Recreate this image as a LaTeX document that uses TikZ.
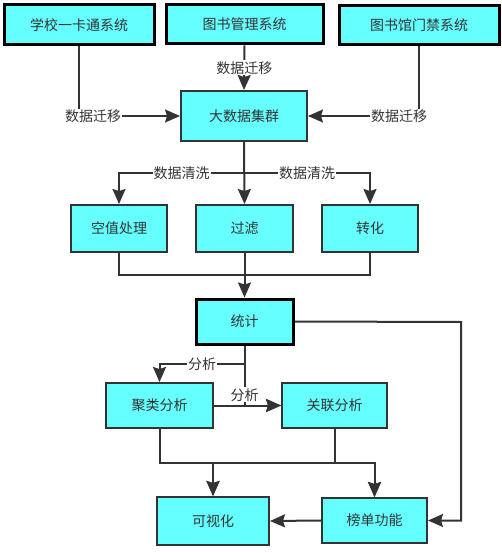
\documentclass[tikz,border=0pt]{standalone}
\usepackage{fontspec}
\setmainfont{Noto Sans CJK SC}
\usetikzlibrary{arrows.meta}
\definecolor{boxfill}{HTML}{66FFFF}
\definecolor{ink}{HTML}{333333}
\begin{document}
\begin{tikzpicture}[x=1pt,y=-1pt,
  box/.style={draw=ink,line width=2pt,fill=boxfill,rectangle,inner sep=0pt,text=ink,font=\fontsize{14}{16}\selectfont},
  boldbox/.style={box,draw=black,line width=3pt},
  conn/.style={draw=ink,line width=2pt},
  arr/.style={conn,-{Stealth[length=15pt,width=13pt,inset=2pt]}},
  lbl/.style={fill=white,inner sep=1pt,text=ink,font=\fontsize{14}{16}\selectfont}]
\useasboundingbox (0,0) rectangle (501,553);
\fill[white] (0,0) rectangle (501,553);
% nodes
\node[boldbox,minimum width=150pt,minimum height=40pt] (xk) at (79,25) {学校一卡通系统};
\node[boldbox,minimum width=157pt,minimum height=39pt] (ts) at (244.5,24.5) {图书管理系统};
\node[boldbox,minimum width=160pt,minimum height=39pt] (mj) at (419,25.5) {图书馆门禁系统};
\node[box,minimum width=126pt,minimum height=50pt] (dsj) at (244,116) {大数据集群};
\node[box,minimum width=96pt,minimum height=47pt] (kz) at (119,228.5) {空值处理};
\node[box,minimum width=97pt,minimum height=47pt] (gl) at (244.5,228.5) {过滤};
\node[box,minimum width=96pt,minimum height=47pt] (zh) at (370,228.5) {转化};
\node[boldbox,minimum width=97pt,minimum height=45pt] (tj) at (244.5,321.5) {统计};
\node[box,minimum width=107pt,minimum height=45pt] (jl) at (159.5,405.5) {聚类分析};
\node[box,minimum width=105pt,minimum height=45pt] (gx) at (334.5,405.5) {关联分析};
\node[box,minimum width=112pt,minimum height=48pt] (ksh) at (213,521) {可视化};
\node[box,minimum width=105pt,minimum height=45pt] (bd) at (374.5,520.5) {榜单功能};
% helper coordinates
\coordinate (c1) at (244,173);
\coordinate (c2) at (244.5,275);
\coordinate (c3) at (461,322);
\coordinate (c6) at (244.5,364);
\coordinate (c4) at (159.5,463);
\coordinate (c5) at (334.5,463);
% connectors
\draw[arr] (xk.south) |- node[lbl,pos=0.57]{数据迁移} (dsj.west);
\draw[arr] (ts.south) -- node[lbl]{数据迁移} (dsj.north);
\draw[arr] (mj.south) |- node[lbl,pos=0.59]{数据迁移} (dsj.east);
\draw[arr] (dsj.south) -- (c1) -| node[lbl,pos=0.25]{数据清洗} (kz.north);
\draw[arr] (dsj.south) -- (c1) -| node[lbl,pos=0.25]{数据清洗} (zh.north);
\draw[arr] (dsj.south) -- (gl.north);
\draw[conn] (kz.south) |- (c2);
\draw[conn] (zh.south) |- (c2);
\draw[arr] (gl.south) -- (tj.north);
\draw[arr] (tj.east) -- (c3) |- (bd.east);
\draw[arr] (tj.south) -- (c6) -| node[lbl,pos=0.25]{分析} (jl.north);
\draw[arr] (tj.south) |- node[lbl,pos=0.41]{分析} (gx.west);
\draw[arr] (jl.east) -- (gx.west);
\draw[arr] (jl.south) -- (c4) -| (bd.north);
\draw[arr] (gx.south) -- (c5) -| (ksh.north);
\draw[arr] (jl.south) -- (c4) -| (ksh.north);
\draw[arr] (gx.south) -- (c5) -| (bd.north);
\draw[arr] (bd.west) -- (ksh.east);
\end{tikzpicture}
\end{document}
